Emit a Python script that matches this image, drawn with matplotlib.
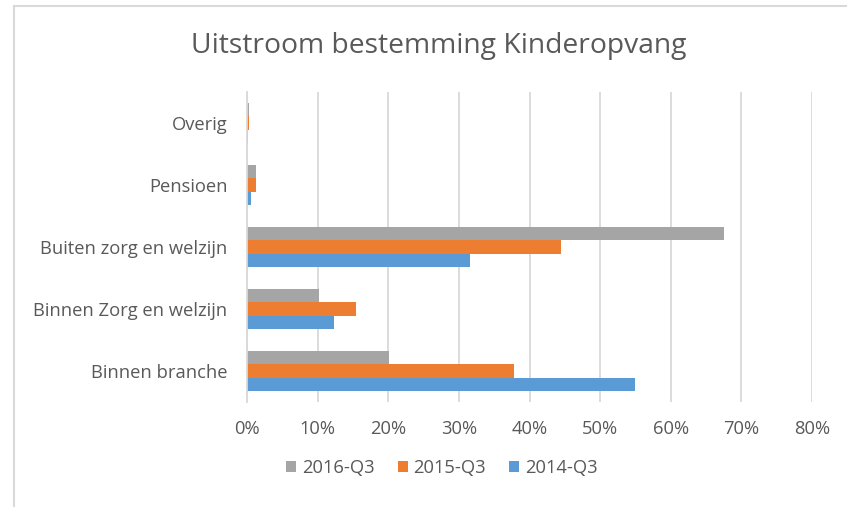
import matplotlib
matplotlib.use("Agg")
import matplotlib.pyplot as plt
import numpy as np
from matplotlib.lines import Line2D
from matplotlib.patches import Patch

categories = ["Binnen branche", "Binnen Zorg en welzijn", "Buiten zorg en welzijn", "Pensioen", "Overig"]
series_names = ["2016-Q3", "2015-Q3", "2014-Q3"]
v2016 = [20.1, 10.2, 67.5, 1.3, 0.3]
v2015 = [37.8, 15.5, 44.5, 1.3, 0.3]
v2014 = [54.9, 12.3, 31.6, 0.5, 0.2]
x_ticks = [0, 10, 20, 30, 40, 50, 60, 70, 80]

colors = {"2016-Q3": "#A5A5A5", "2015-Q3": "#ED7D31", "2014-Q3": "#5B9BD5"}
txt = "#595959"
font = "Open Sans"
fs = 13.2

fig = plt.figure(figsize=(8.47, 5.07), dpi=100)
ax = fig.add_axes([247/847, 1-402/507, (812-247)/847, (402-92)/507])

y = np.arange(len(categories))
h = 0.21
ax.barh(y + h, v2016, height=h, color=colors["2016-Q3"], zorder=3)
ax.barh(y, v2015, height=h, color=colors["2015-Q3"], zorder=3)
ax.barh(y - h, v2014, height=h, color=colors["2014-Q3"], zorder=3)

ax.set_xlim(0, 80)
ax.set_ylim(-0.5, len(categories) - 0.5)
ax.set_xticks(x_ticks)
ax.set_xticklabels([f"{t}%" for t in x_ticks], fontsize=fs, color=txt, family=font)
ax.set_yticks(y)
ax.set_yticklabels(categories, fontsize=fs, color=txt, family=font)
ax.tick_params(axis="x", length=0, pad=13)
ax.tick_params(axis="y", length=0, pad=14)
ax.xaxis.grid(True, color="#D9D9D9", linewidth=1.3, zorder=0)
for s in ["top", "right", "bottom"]:
    ax.spines[s].set_visible(False)
ax.spines["left"].set_color("#D9D9D9")
ax.spines["left"].set_linewidth(1.3)
ax.spines["left"].set_zorder(4)

fig.text(439/847, 1-46/507, "Uitstroom bestemming Kinderopvang", ha="center", va="center",
         fontsize=20.3, color=txt, family=font)

handles = [Patch(facecolor=colors[n], edgecolor="none") for n in series_names]
fig.legend(handles, series_names, loc="center", bbox_to_anchor=(442/847, 1-468/507),
           ncol=3, frameon=False, handlelength=0.55, handleheight=0.55, handletextpad=0.3,
           columnspacing=1.27, prop={"family": font, "size": fs}, labelcolor=txt)

# outer chart border (top and left)
fig.add_artist(Line2D([14/847, 1], [1-6/507, 1-6/507], color="#D9D9D9", linewidth=1.5))
fig.add_artist(Line2D([14/847, 14/847], [0, 1-6/507], color="#D9D9D9", linewidth=1.5))

fig.savefig("out.png", dpi=100)
